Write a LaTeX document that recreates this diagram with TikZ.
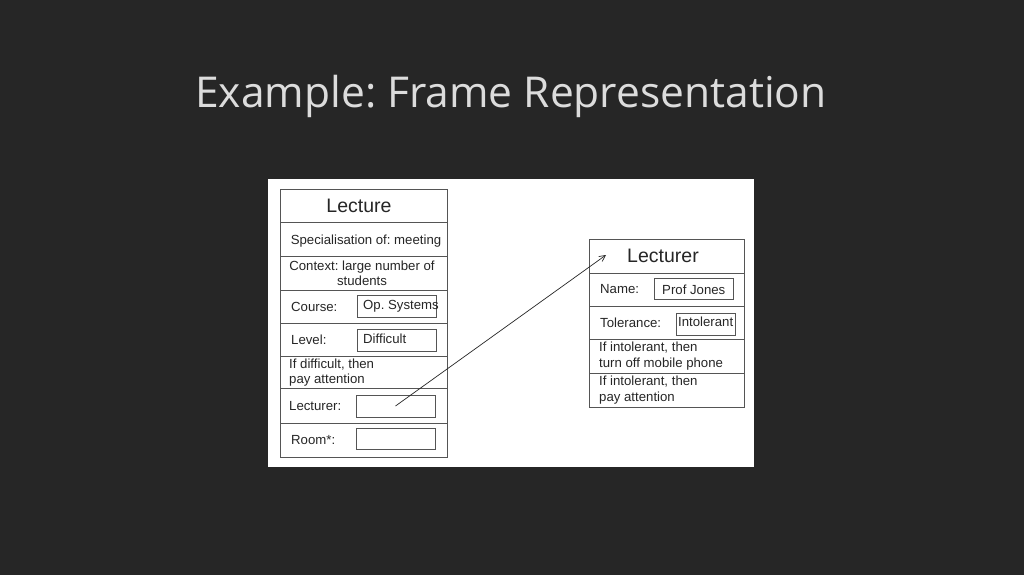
\documentclass[tikz,border=0pt]{standalone}
\usepackage{fontspec}
\setmainfont{Liberation Sans}
\newfontfamily\titlefont{Open Sans}
\usetikzlibrary{arrows.meta}
\frenchspacing
\definecolor{bgc}{HTML}{262626}
\definecolor{titlec}{HTML}{DCDCDC}
\definecolor{linec}{HTML}{555555}
\definecolor{txtc}{HTML}{262626}
\tikzset{
  row/.style={draw=linec, line width=0.95pt, anchor=north west, inner sep=0pt, outer sep=0pt},
  slot/.style={draw=linec, line width=0.95pt, anchor=north west, inner sep=0pt, outer sep=0pt},
  lbl/.style={anchor=west, inner sep=0pt, text=txtc, font=\fontsize{13.2}{15.5}\selectfont},
  ctr/.style={anchor=center, inner sep=0pt, text=txtc, align=center, font=\fontsize{13.2}{15}\selectfont},
  head/.style={anchor=center, inner sep=0pt, text=txtc, font=\fontsize{19.5}{22}\selectfont},
  lnk/.style={draw=txtc, line width=0.7pt, -{Straight Barb[length=6pt,width=6pt]}}
}
\begin{document}
\begin{tikzpicture}[x=1pt,y=-1pt]
\fill[bgc] (0,0) rectangle (1024,575);
\useasboundingbox (0,0) rectangle (1024,575);
\node[font=\titlefont\fontsize{42.5}{50}\selectfont, text=black!85, inner sep=0pt, anchor=base] (titleshadow) at (512,109) {Example: Frame Representation};
\node[font=\titlefont\fontsize{42.5}{50}\selectfont, text=titlec, inner sep=0pt, anchor=base] (title) at (511,108) {Example: Frame Representation};
\fill[white] (268,179) rectangle (754,467);
% Left frame
\node[row, minimum width=166.5pt, minimum height=32.5pt] (L1) at (280.5,189.5) {};
\node[row, minimum width=166.5pt, minimum height=34.5pt] (L2) at (280.5,222) {};
\node[row, minimum width=166.5pt, minimum height=34pt] (L3) at (280.5,256.5) {};
\node[row, minimum width=166.5pt, minimum height=33pt] (L4) at (280.5,290.5) {};
\node[row, minimum width=166.5pt, minimum height=33pt] (L5) at (280.5,323.5) {};
\node[row, minimum width=166.5pt, minimum height=32pt] (L6) at (280.5,356.5) {};
\node[row, minimum width=166.5pt, minimum height=34.5pt] (L7) at (280.5,388.5) {};
\node[row, minimum width=166.5pt, minimum height=34pt] (L8) at (280.5,423) {};
\node[head] (t1) at (359,206) {Lecture};
\node[ctr] (t2) at (366,241.5) {Specialisation of: meeting};
\node[ctr] (t3) at (362,273.5) {Context: large number of\\students};
\node[lbl] (t4) at (291,306.5) {Course:};
\node[slot, minimum width=79pt, minimum height=22pt] (s4) at (357,295) {};
\node[lbl] (t4v) at (363,306.5) {Op. Systems};
\node[lbl] (t5) at (291,339.5) {Level:};
\node[slot, minimum width=79pt, minimum height=22pt] (s5) at (357,329) {};
\node[lbl] (t5v) at (363,338.5) {Difficult};
\node[lbl, align=left] (t6) at (289,372.5) {If difficult, then\\pay attention};
\node[lbl] (t7) at (289,406.5) {Lecturer:};
\node[slot, minimum width=79pt, minimum height=22pt] (s7) at (356,395) {};
\node[lbl] (t8) at (291,440.5) {Room*:};
\node[slot, minimum width=79pt, minimum height=21pt] (s8) at (356,428) {};
% Right frame
\node[row, minimum width=155pt, minimum height=34pt] (R1) at (589,239) {};
\node[row, minimum width=155pt, minimum height=33pt] (R2) at (589,273) {};
\node[row, minimum width=155pt, minimum height=33pt] (R3) at (589,306) {};
\node[row, minimum width=155pt, minimum height=34pt] (R4) at (589,339) {};
\node[row, minimum width=155pt, minimum height=34pt] (R5) at (589,373) {};
\node[head] (r1) at (663,256) {Lecturer};
\node[lbl] (r2) at (600,289.5) {Name:};
\node[slot, minimum width=79pt, minimum height=21pt] (rs2) at (654,278) {};
\node[lbl] (r2v) at (662,289.5) {Prof Jones};
\node[lbl] (r3) at (600,323) {Tolerance:};
\node[slot, minimum width=59pt, minimum height=22pt] (rs3) at (676.5,313) {};
\node[lbl] (r3v) at (678,322) {Intolerant};
\node[lbl, align=left] (r4) at (599,356) {If intolerant, then\\turn off mobile phone};
\node[lbl, align=left] (r5) at (599,390) {If intolerant, then\\pay attention};
% link
\coordinate (tip) at (606,255);
\draw[lnk] (s7.center) -- (tip);
\end{tikzpicture}
\end{document}
